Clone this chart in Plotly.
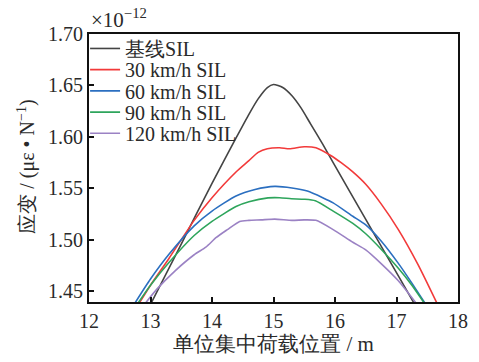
import plotly.graph_objects as go

# Data (strain ×1e-12 vs. load position in m)
names = ["基线SIL", "30 km/h SIL", "60 km/h SIL", "90 km/h SIL", "120 km/h SIL"]
colors = ["#444444", "#f23a3a", "#2b6fc0", "#2ea55c", "#9b82c4"]

base_x = [12.98, 13.5, 14.0, 14.4, 14.6, 14.75, 14.9, 15.0, 15.15, 15.3, 15.45, 15.6, 15.8, 15.97, 16.5, 17.03, 17.3]
base_y = [1.435, 1.496, 1.555, 1.600, 1.622, 1.637, 1.648, 1.651, 1.648, 1.640, 1.628, 1.613, 1.593, 1.575, 1.520, 1.465, 1.437]

s30_x = [12.80, 13.0, 13.3, 13.71, 14.0, 14.39, 14.6, 14.75, 14.9, 15.1, 15.26, 15.5, 15.69, 15.93, 16.1, 16.29, 16.5, 16.75, 17.03, 17.35, 17.67]
s30_y = [1.437, 1.456, 1.482, 1.519, 1.541, 1.566, 1.577, 1.585, 1.5886, 1.5895, 1.5885, 1.5905, 1.5895, 1.582, 1.575, 1.566, 1.554, 1.535, 1.510, 1.476, 1.437]

s60_x = [12.74, 13.0, 13.3, 13.71, 14.0, 14.39, 14.7, 15.02, 15.3, 15.55, 15.8, 15.97, 16.29, 16.5, 16.75, 17.03, 17.25, 17.48]
s60_y = [1.438, 1.462, 1.486, 1.5137, 1.528, 1.5427, 1.549, 1.552, 1.5505, 1.5474, 1.541, 1.536, 1.523, 1.5146, 1.499, 1.4772, 1.458, 1.437]

s90_x = [12.79, 13.0, 13.3, 13.71, 14.0, 14.39, 14.6, 14.91, 15.1, 15.29, 15.5, 15.68, 15.97, 16.29, 16.5, 16.75, 17.03, 17.25, 17.47]
s90_y = [1.438, 1.456, 1.478, 1.5043, 1.518, 1.5324, 1.537, 1.5408, 1.541, 1.540, 1.5395, 1.538, 1.528, 1.516, 1.506, 1.491, 1.4725, 1.456, 1.437]

s120_x = [12.91, 13.1, 13.4, 13.71, 13.9, 14.07, 14.25, 14.45, 14.6, 14.8, 15.02, 15.3, 15.5, 15.69, 15.97, 16.29, 16.5, 16.75, 17.03, 17.34]
s120_y = [1.438, 1.452, 1.470, 1.4856, 1.493, 1.5024, 1.510, 1.518, 1.519, 1.5195, 1.5202, 1.519, 1.5195, 1.519, 1.510, 1.4977, 1.4903, 1.477, 1.4603, 1.437]

xs = [base_x, s30_x, s60_x, s90_x, s120_x]
ys = [base_y, s30_y, s60_y, s90_y, s120_y]

x_ticks = [12, 13, 14, 15, 16, 17, 18]
y_ticks = [1.45, 1.50, 1.55, 1.60, 1.65, 1.70]

serif = "Times New Roman"
txt_color = "#2a2a2a"

fig = go.Figure()
legend_keys = ["legend", "legend2", "legend3", "legend4", "legend5"]
for n, c, x, y, lk in zip(names, colors, xs, ys, legend_keys):
    fig.add_trace(go.Scatter(x=x, y=y, name=n, mode="lines", legend=lk,
                             line=dict(color=c, width=1.6, shape="spline", smoothing=0.6)))

# one legend per entry so the row spacing can match the reference
plot_top, plot_h = 34, 278
row_px = [49, 71, 93, 115, 137]
legend_cfg = {}
for lk, py in zip(legend_keys, row_px):
    legend_cfg[lk] = dict(x=-0.0106, y=1 - (py - plot_top) / plot_h,
                          xanchor="left", yanchor="middle",
                          bgcolor="rgba(0,0,0,0)",
                          font=dict(size=20, family=serif, color=txt_color),
                          itemwidth=30)

fig.update_layout(
    width=479, height=362,
    margin=dict(l=89, r=11, t=34, b=50),
    paper_bgcolor="white", plot_bgcolor="white",
    font=dict(family=serif, size=20, color=txt_color),
    showlegend=True,
    xaxis=dict(range=[12, 18], tickvals=x_ticks, ticktext=[str(v) for v in x_ticks],
               ticks="inside", ticklen=5, tickwidth=1.5, tickcolor="#111",
               showline=True, linecolor="#111", linewidth=2, mirror=True,
               showgrid=False, zeroline=False,
               title=dict(text="单位集中荷载位置 / m", standoff=4,
                          font=dict(size=21, family=serif)),
               tickfont=dict(size=20, family=serif)),
    yaxis=dict(range=[1.4397, 1.70], tickvals=y_ticks, ticktext=[f"{v:.2f}" for v in y_ticks],
               ticks="inside", ticklen=5, tickwidth=1.5, tickcolor="#111",
               showline=True, linecolor="#111", linewidth=2, mirror=True,
               showgrid=False, zeroline=False,
               tickfont=dict(size=20, family=serif)),
    **legend_cfg,
)

# y-axis title placed as a rotated annotation to match the reference position
fig.add_annotation(text="应变 / (με • N<sup>−1</sup>)", xref="paper", yref="paper",
                   x=-89 / 379 + 24 / 379, y=1 - (172 - plot_top) / plot_h,
                   xanchor="center", yanchor="middle", textangle=-90,
                   showarrow=False, font=dict(size=20, family=serif, color=txt_color))

fig.add_annotation(text="×10<sup>−12</sup>", xref="paper", yref="paper",
                   x=0.0, y=1.0, xanchor="left", yanchor="bottom", yshift=0,
                   showarrow=False, font=dict(size=21, family=serif, color=txt_color))

fig.write_html("out.html")
